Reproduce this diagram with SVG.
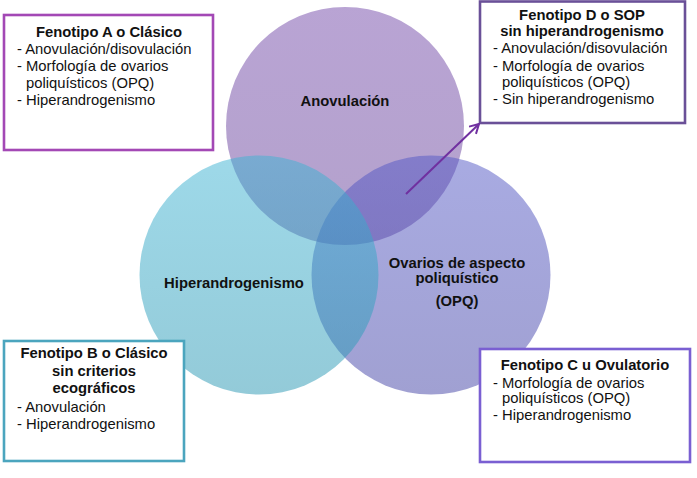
<svg xmlns="http://www.w3.org/2000/svg" width="697" height="478" viewBox="0 0 697 478">
<defs>
<marker id="arr" viewBox="0 0 12 12" refX="10" refY="6" markerWidth="12" markerHeight="12" markerUnits="userSpaceOnUse" orient="auto">
<path d="M1,1 L10,6 L1,11" fill="none" stroke="#7030a0" stroke-width="2"/>
</marker>
<linearGradient id="gT" x1="0" y1="0" x2="0" y2="1">
<stop offset="0" stop-color="#7349a9"/>
<stop offset="1" stop-color="#684499"/>
</linearGradient>
<linearGradient id="gL" x1="0" y1="0" x2="0" y2="1">
<stop offset="0" stop-color="#3db3d3"/>
<stop offset="1" stop-color="#2896b2"/>
</linearGradient>
<linearGradient id="gR" x1="0" y1="0" x2="0" y2="1">
<stop offset="0" stop-color="#5257c5"/>
<stop offset="1" stop-color="#4242a5"/>
</linearGradient>
</defs>
<style>
text{font-family:"Liberation Sans",Arial,sans-serif;font-size:14.8px;fill:#111}
.b{font-weight:bold}
.c{text-anchor:middle}
.box{fill:#fff;stroke-width:2.6}
.circ{fill-opacity:0.5}
</style>
<rect width="697" height="478" fill="#fff"/>
<g id="circle-anovulacion">
<circle class="circ" cx="345" cy="126" r="119" fill="url(#gT)"/>
</g>
<g id="circle-opq">
<circle class="circ" cx="431" cy="275" r="119.5" fill="url(#gR)"/>
</g>
<g id="circle-hiperandrogenismo">
<circle class="circ" cx="259" cy="275" r="119.5" fill="url(#gL)"/>
</g>
<g id="label-anovulacion"><text class="b c" x="345" y="106">Anovulación</text></g>
<g id="label-hiper"><text class="b c" x="234" y="288">Hiperandrogenismo</text></g>
<g id="label-opq">
<text class="b c" x="457" y="268">Ovarios de aspecto</text>
<text class="b c" x="457" y="283">poliquístico</text>
<text class="b c" x="457" y="306">(OPQ)</text>
</g>
<g id="box-a">
<rect class="box" x="4" y="15" width="209" height="135" stroke="#a348b5"/>
<text class="b c" x="109" y="37">Fenotipo A o Clásico</text>
<text x="17" y="54">- Anovulación/disovulación</text>
<text x="17" y="71">- Morfología de ovarios</text>
<text x="26" y="88">poliquísticos (OPQ)</text>
<text x="17" y="105">- Hiperandrogenismo</text>
</g>
<g id="box-d">
<rect class="box" x="480" y="1.5" width="205" height="121.5" stroke="#6a5098"/>
<text class="b c" x="582" y="20">Fenotipo D o SOP</text>
<text class="b c" x="582" y="36">sin hiperandrogenismo</text>
<text x="493" y="53">- Anovulación/disovulación</text>
<text x="493" y="71">- Morfología de ovarios</text>
<text x="502" y="87">poliquísticos (OPQ)</text>
<text x="493" y="104">- Sin hiperandrogenismo</text>
</g>
<g id="box-b">
<rect class="box" x="4" y="341" width="180" height="120" stroke="#4ba5be"/>
<text class="b c" x="94" y="358">Fenotipo B o Clásico</text>
<text class="b c" x="94" y="376">sin criterios</text>
<text class="b c" x="94" y="393">ecográficos</text>
<text x="17" y="412">- Anovulación</text>
<text x="17" y="429">- Hiperandrogenismo</text>
</g>
<g id="box-c">
<rect class="box" x="480" y="349" width="210" height="113" stroke="#7a5fd2"/>
<text class="b c" x="585" y="370">Fenotipo C u Ovulatorio</text>
<text x="493" y="388">- Morfología de ovarios</text>
<text x="502" y="403">poliquísticos (OPQ)</text>
<text x="493" y="420">- Hiperandrogenismo</text>
</g>
<g id="connectors">
<line x1="406" y1="194" x2="479" y2="124" stroke="#7030a0" stroke-width="2" marker-end="url(#arr)"/>
</g>
</svg>
